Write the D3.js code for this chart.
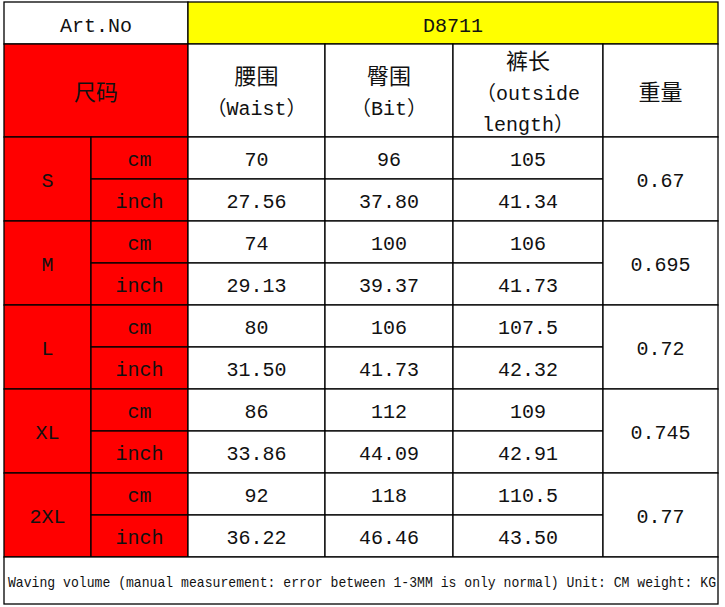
<!DOCTYPE html>
<html><head><meta charset="utf-8">
<script src="https://cdn.jsdelivr.net/npm/d3@7"></script>
<style>body{margin:0;background:#fff}</style>
</head><body>
<svg width="725" height="607"></svg>
<script>
// data
const sizes = ["S", "M", "L", "XL", "2XL"];
const units = ["cm", "inch"];
const waist = [[70, "27.56"], [74, "29.13"], [80, "31.50"], [86, "33.86"], [92, "36.22"]];
const hip = [[96, "37.80"], [100, "39.37"], [106, "41.73"], [112, "44.09"], [118, "46.46"]];
const length = [[105, "41.34"], [106, "41.73"], ["107.5", "42.32"], [109, "42.91"], ["110.5", "43.50"]];
const weight = ["0.67", "0.695", "0.72", "0.745", "0.77"];
const headers = [["腰围", "（Waist）"], ["臀围", "（Bit）"], ["裤长", "（outside", "length）"], ["重量"]];
const footer = "Waving volume (manual measurement: error between 1-3MM is only normal) Unit: CM weight: KG";

const svg = d3.select("svg");
const font = "'Liberation Mono', 'Noto Sans CJK SC', monospace";

// column edges and row edges
const colX = [4, 91, 188, 325, 453, 603, 718];
const y = d3.scaleLinear().domain([0, 10]).range([137, 557]); // 10 data rows

function cell(x0, y0, x1, y1, fill) {
    svg.append("rect")
        .attr("x", x0).attr("y", y0)
        .attr("width", x1 - x0).attr("height", y1 - y0)
        .attr("fill", fill).attr("stroke", "#000").attr("stroke-width", 1.3);
}
function label(x, yy, t, size) {
    svg.append("text")
        .attr("x", x).attr("y", yy + 2)
        .attr("text-anchor", "middle").attr("dominant-baseline", "central")
        .style("font-family", font).style("font-size", (size || 20) + "px")
        .attr("fill", "#111").text(t);
}

// top row
cell(colX[0], 2, colX[2], 44, "#fff");
label((colX[0] + colX[2]) / 2, 24, "Art.No");
cell(colX[2], 2, colX[6], 44, "#ffff00");
label((colX[2] + colX[6]) / 2, 24, "D8711");

// header row
cell(colX[0], 44, colX[2], 137, "#ff0000");
label((colX[0] + colX[2]) / 2, 92, "尺码", 22);
headers.forEach((h, i) => {
    const x0 = colX[i + 2], x1 = colX[i + 3];
    cell(x0, 44, x1, 137, "#fff");
    const lh = 31, start = 92 - (h.length - 1) * lh / 2;
    h.forEach((t, j) => label((x0 + x1) / 2, start + j * lh, t, j === 0 ? 22 : 20));
});

// data rows
const cols = [waist, hip, length];
sizes.forEach((s, i) => {
    const r0 = y(i * 2), r2 = y(i * 2 + 2);
    cell(colX[0], r0, colX[1], r2, "#ff0000");
    label((colX[0] + colX[1]) / 2, (r0 + r2) / 2, s);
    units.forEach((u, k) => {
        const a = y(i * 2 + k), b = y(i * 2 + k + 1);
        cell(colX[1], a, colX[2], b, "#ff0000");
        label((colX[1] + colX[2]) / 2, (a + b) / 2, u);
        cols.forEach((c, j) => {
            cell(colX[j + 2], a, colX[j + 3], b, "#fff");
            label((colX[j + 2] + colX[j + 3]) / 2, (a + b) / 2, c[i][k]);
        });
    });
    cell(colX[5], r0, colX[6], r2, "#fff");
    label((colX[5] + colX[6]) / 2, (r0 + r2) / 2, weight[i]);
});

// footer
cell(colX[0], 557, colX[6], 604, "#fff");
svg.append("text")
    .attr("x", 716).attr("y", 583)
    .attr("text-anchor", "end").attr("dominant-baseline", "central")
    .attr("textLength", 708).attr("lengthAdjust", "spacingAndGlyphs")
    .style("font-family", font).style("font-size", "15px")
    .attr("fill", "#111").text(footer);
</script>
</body></html>
